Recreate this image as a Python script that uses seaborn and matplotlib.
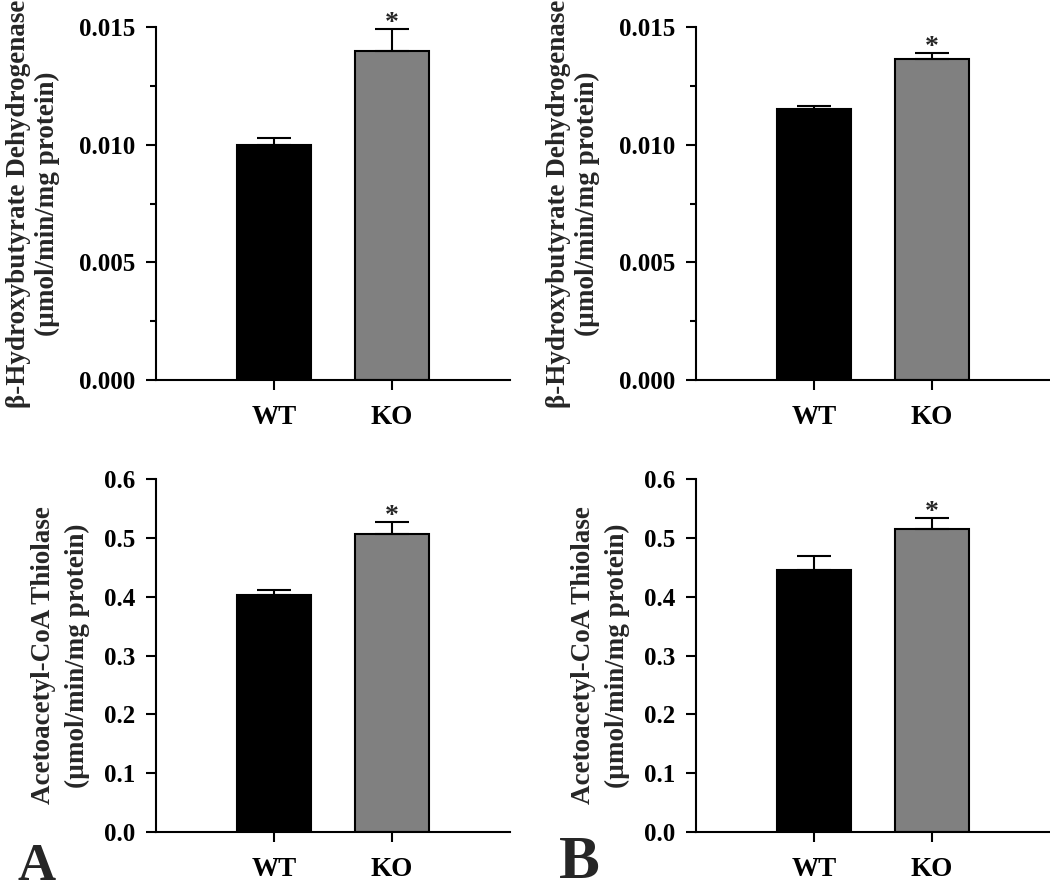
import seaborn as sns
import matplotlib.pyplot as plt
import matplotlib.ticker as ticker
import pandas as pd


groups = ["WT", "KO"]

# beta-hydroxybutyrate dehydrogenase (umol/min/mg protein), mean and SEM
bdh_a_mean = [0.0100, 0.0140]
bdh_a_sem = [0.0003, 0.0009]
bdh_b_mean = [0.01153, 0.01364]
bdh_b_sem = [0.00012, 0.00024]

# acetoacetyl-CoA thiolase (umol/min/mg protein), mean and SEM
thio_a_mean = [0.402, 0.506]
thio_a_sem = [0.009, 0.021]
thio_b_mean = [0.446, 0.515]
thio_b_sem = [0.023, 0.018]

stars = ["", "*"]

bdh_label = "\u03b2-Hydroxybutyrate Dehydrogenase\n(\u00b5mol/min/mg protein)"
thio_label = "Acetoacetyl-CoA Thiolase\n(\u00b5mol/min/mg protein)"

sns.set_style("ticks")
plt.rcParams.update({
    "font.family": ["Liberation Serif", "DejaVu Serif"],
    "font.weight": "bold",
    "axes.labelweight": "bold",
    "axes.linewidth": 1.5,
    "xtick.major.width": 1.5,
    "ytick.major.width": 1.5,
    "ytick.minor.width": 1.5,
    "xtick.major.size": 7,
    "ytick.major.size": 7,
    "ytick.minor.size": 4.5,
    "xtick.color": "black",
    "ytick.color": "black",
    "axes.edgecolor": "black",
})

fig = plt.figure(figsize=(10.5, 8.91), dpi=100)

panels = [
    # rect, means, sems, ylabel, ymax, ystep, fmt, minor, labelpad, linespacing
    ([0.1486, 0.5735, 0.3371, 0.3962], bdh_a_mean, bdh_a_sem, bdh_label, 0.015, 0.005, "%.3f", True, 14, 1.2),
    ([0.6629, 0.5735, 0.3371, 0.3962], bdh_b_mean, bdh_b_sem, bdh_label, 0.015, 0.005, "%.3f", True, 14, 1.2),
    ([0.1486, 0.0662, 0.3371, 0.3962], thio_a_mean, thio_a_sem, thio_label, 0.6, 0.1, "%.1f", False, 10, 1.45),
    ([0.6629, 0.0662, 0.3371, 0.3962], thio_b_mean, thio_b_sem, thio_label, 0.6, 0.1, "%.1f", False, 10, 1.45),
]

for rect, means, sems, ylabel, ymax, ystep, fmt, minor, lpad, lsp in panels:
    ax = fig.add_axes(rect)
    df = pd.DataFrame({"group": groups, "value": means})
    sns.barplot(data=df, x="group", y="value", hue="group", order=groups,
                palette={"WT": "black", "KO": "#808080"}, width=0.62,
                edgecolor="black", linewidth=1.5, errorbar=None, legend=False, ax=ax)
    xs = [p.get_x() + p.get_width() / 2 for p in ax.patches]
    ax.errorbar(xs, means, yerr=[[0] * len(sems), sems], fmt="none",
                ecolor="black", elinewidth=1.5, capsize=12, capthick=1.5)
    for x, m, s, st in zip(xs, means, sems, stars):
        if st:
            ax.annotate(st, (x, m + s), xytext=(0, -5), textcoords="offset points",
                        ha="center", va="bottom", fontsize=20, fontweight="bold")
    ax.set_xlim(-1, 2)
    ax.set_ylim(0, ymax)
    ax.yaxis.set_major_locator(ticker.MultipleLocator(ystep))
    ax.yaxis.set_major_formatter(ticker.FormatStrFormatter(fmt))
    if minor:
        ax.yaxis.set_minor_locator(ticker.MultipleLocator(ystep / 2))
    ax.tick_params(axis="y", labelsize=18, pad=8)
    ax.tick_params(axis="x", labelsize=19.5, pad=11)
    for lab in ax.get_xticklabels() + ax.get_yticklabels():
        lab.set_fontweight("bold")
    ax.set_xlabel("")
    ax.set_ylabel(ylabel, fontsize=19.5, fontweight="bold", labelpad=lpad, linespacing=lsp)
    sns.despine(ax=ax)

# panel letters
fig.text(0.017, 0.0, "A", fontsize=38, fontweight="bold", va="bottom", ha="left")
fig.text(0.532, 0.0, "B", fontsize=44, fontweight="bold", va="bottom", ha="left")

fig.savefig("out.png", dpi=100)
